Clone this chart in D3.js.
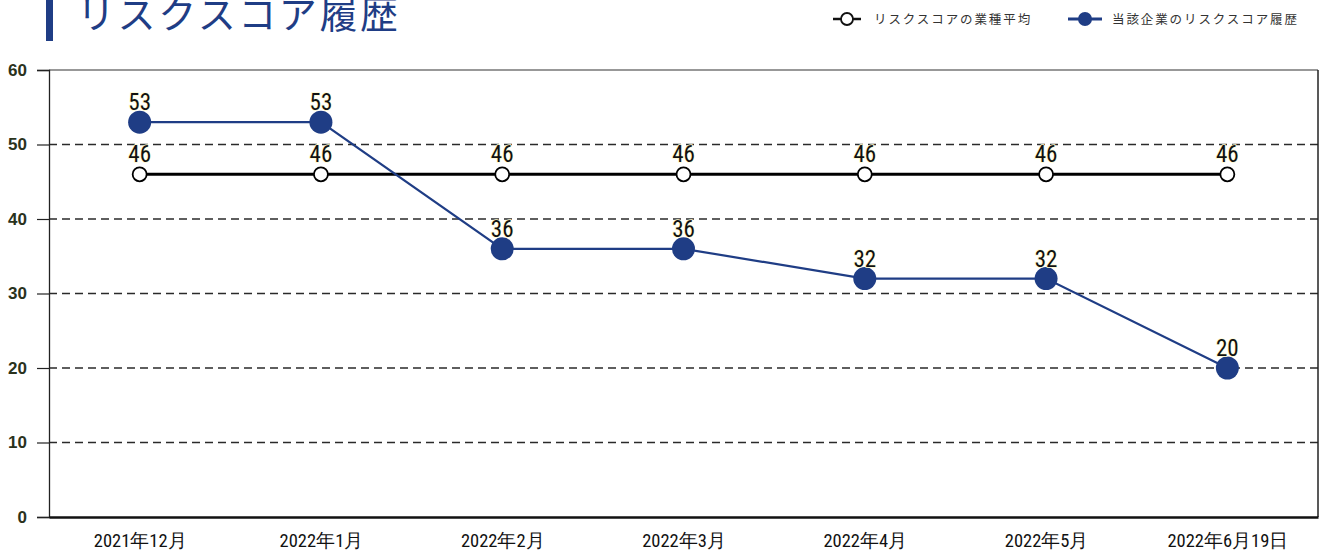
<!DOCTYPE html>
<html><head><meta charset="utf-8">
<script src="https://cdn.jsdelivr.net/npm/d3@7"></script>
<style>
html,body{margin:0;padding:0;background:#fff;}
svg{display:block;}
</style></head>
<body>
<svg id="chart" width="1326" height="552"></svg>
<script>
const title = "リスクスコア履歴";
const categories = ["2021年12月","2022年1月","2022年2月","2022年3月","2022年4月","2022年5月","2022年6月19日"];
const industryAvg = [46,46,46,46,46,46,46];
const companyScore = [53,53,36,36,32,32,20];
const yTicks = [0,10,20,30,40,50,60];
const seriesNames = ["リスクスコアの業種平均","当該企業のリスクスコア履歴"];

const blue = "#1f3d85";
const narrow = "'Liberation Sans Narrow','Arial Narrow','Roboto Condensed','DejaVu Sans Condensed',sans-serif";
const sans = "'Liberation Sans',Arial,sans-serif";
const jp = "'Noto Sans CJK JP','Noto Sans',sans-serif";

const svg = d3.select("#chart");
const L = 49, R = 1318, T = 70, B = 517;

const x = d3.scalePoint().domain(categories).range([L, R]).padding(0.5);
const y = d3.scaleLinear().domain([0, 60]).range([B, T]);

// title
svg.append("rect").attr("x",46).attr("y",0).attr("width",7).attr("height",41).attr("fill",blue);
svg.append("text").attr("x",77).attr("y",28).attr("font-family",jp).attr("font-size",38)
  .attr("fill",blue).attr("letter-spacing",2.6).text(title);

// legend
const lg = svg.append("g");
lg.append("line").attr("x1",833).attr("x2",861).attr("y1",19).attr("y2",19).attr("stroke","#111").attr("stroke-width",2.5);
lg.append("circle").attr("cx",847).attr("cy",19).attr("r",6).attr("fill","#fff").attr("stroke","#111").attr("stroke-width",1.8);
lg.append("text").attr("x",874).attr("y",24).attr("font-family",jp).attr("font-size",12.5).attr("fill","#333").attr("letter-spacing",1.9).text(seriesNames[0]);
lg.append("line").attr("x1",1068).attr("x2",1102).attr("y1",19).attr("y2",19).attr("stroke",blue).attr("stroke-width",3);
lg.append("circle").attr("cx",1085).attr("cy",19).attr("r",7).attr("fill",blue);
lg.append("text").attr("x",1112).attr("y",24).attr("font-family",jp).attr("font-size",12.5).attr("fill","#333").attr("letter-spacing",1.9).text(seriesNames[1]);

// grid
svg.append("g").selectAll("line").data(yTicks.filter(d=>d>0 && d<60)).join("line")
  .attr("x1",L).attr("x2",R).attr("y1",d=>y(d)).attr("y2",d=>y(d))
  .attr("stroke","#2a2a2a").attr("stroke-width",1.3).attr("stroke-dasharray","8,5");
// frame
svg.append("line").attr("x1",L).attr("x2",R).attr("y1",y(60)).attr("y2",y(60)).attr("stroke","#333").attr("stroke-width",1.2);
svg.append("line").attr("x1",R).attr("x2",R).attr("y1",T).attr("y2",B).attr("stroke","#222").attr("stroke-width",1.5);

// y axis
const ya = svg.append("g").attr("transform",`translate(${L},0)`)
  .call(d3.axisLeft(y).tickValues(yTicks).tickSize(12).tickPadding(10).tickFormat(d3.format("d")));
ya.select(".domain").attr("stroke","#222").attr("stroke-width",1.3);
ya.selectAll(".tick line").attr("stroke","#222").attr("stroke-width",1.2);
ya.selectAll(".tick text").attr("font-family",sans).attr("font-size",17).attr("font-weight","bold").attr("fill","#2a321c");

// x axis
const xa = svg.append("g").attr("transform",`translate(0,${B})`)
  .call(d3.axisBottom(x).tickSize(0).tickPadding(17));
xa.select(".domain").attr("stroke","#111").attr("stroke-width",2.5);
xa.selectAll(".tick text").attr("font-family",narrow).attr("font-size",18.5).attr("fill","#111");

// lines
const line = d3.line().x((d,i)=>x(categories[i])).y(d=>y(d));
svg.append("path").datum(industryAvg).attr("d",line).attr("fill","none").attr("stroke","#000").attr("stroke-width",3);
svg.append("path").datum(companyScore).attr("d",line).attr("fill","none").attr("stroke",blue).attr("stroke-width",2.2);

svg.append("g").selectAll("circle").data(industryAvg).join("circle")
  .attr("cx",(d,i)=>x(categories[i])).attr("cy",d=>y(d)).attr("r",7)
  .attr("fill","#fff").attr("stroke","#000").attr("stroke-width",1.8);
svg.append("g").selectAll("circle").data(companyScore).join("circle")
  .attr("cx",(d,i)=>x(categories[i])).attr("cy",d=>y(d)).attr("r",11.5)
  .attr("fill",blue);

function labels(data){
  svg.append("g").selectAll("text").data(data).join("text")
    .attr("x",(d,i)=>x(categories[i])).attr("y",d=>y(d)-12)
    .attr("text-anchor","middle").attr("font-family",narrow).attr("font-size",23)
    .attr("fill","#111").attr("stroke","#fffbd0").attr("stroke-width",1.5).attr("paint-order","stroke")
    .text(d=>d);
}
labels(industryAvg);
labels(companyScore);
</script>
</body></html>
